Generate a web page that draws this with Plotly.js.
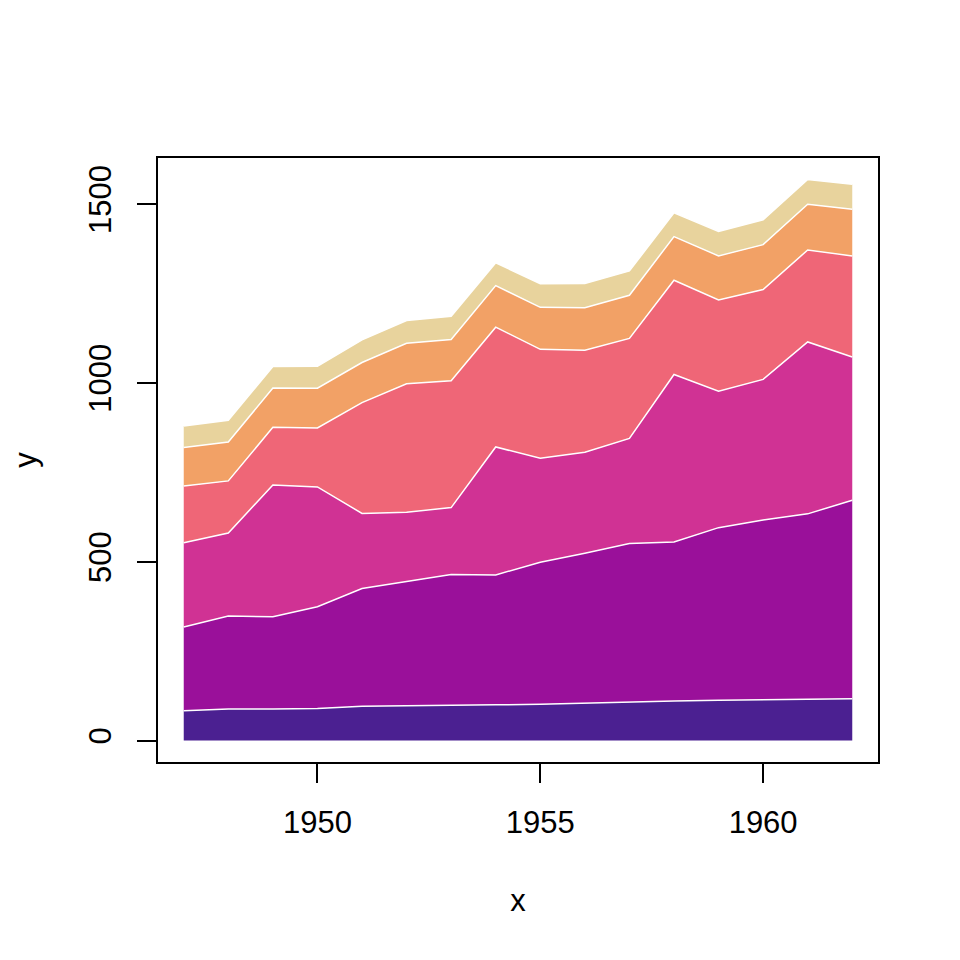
<!DOCTYPE html>
<html>
<head>
<meta charset="utf-8">
<script src="https://cdn.plot.ly/plotly-3.0.1.min.js"></script>
<style>
  body { margin: 0; background: #fff; }
  #chart { width: 960px; height: 960px; }
</style>
</head>
<body>
<div id="chart"></div>
<script>
// longley data, stacked
var years = [1947, 1948, 1949, 1950, 1951, 1952, 1953, 1954, 1955, 1956, 1957, 1958, 1959, 1960, 1961, 1962];
var gnpDeflator = [83, 88.5, 88.2, 89.5, 96.2, 98.1, 99, 100, 101.2, 104.6, 108.4, 110.8, 112.6, 114.2, 115.7, 116.9];
var gnp = [234.289, 259.426, 258.054, 284.599, 328.975, 346.999, 365.385, 363.112, 397.469, 419.18, 442.769, 444.546, 482.704, 502.601, 518.173, 554.894];
var unemployed = [235.6, 232.5, 368.2, 335.1, 209.9, 193.2, 187, 357.8, 290.4, 282.2, 293.6, 468.1, 381.3, 393.1, 480.6, 400.7];
var armedForces = [159, 145.6, 161.6, 165, 309.9, 359.4, 354.7, 335, 304.8, 285.7, 279.8, 263.7, 255.2, 251.4, 257.2, 282.7];
var population = [107.608, 108.632, 109.773, 110.929, 112.075, 113.27, 115.094, 116.219, 117.388, 118.734, 120.445, 121.95, 123.366, 125.368, 127.852, 130.081];
var employed = [60.323, 61.122, 60.171, 61.187, 63.221, 63.639, 64.989, 63.761, 66.019, 67.857, 68.169, 66.513, 68.655, 69.564, 69.331, 70.551];

var series = [gnpDeflator, gnp, unemployed, armedForces, population, employed];
var names = ["GNP.deflator", "GNP", "Unemployed", "Armed.Forces", "Population", "Employed"];
var colors = ["#4B2091", "#9A109A", "#D03294", "#EF6677", "#F2A166", "#E8D39D"];

var data = [];
for (var i = 0; i < series.length; i++) {
  data.push({
    x: years,
    y: series[i],
    type: "scatter",
    mode: "lines",
    stackgroup: "one",
    name: names[i],
    fillcolor: colors[i],
    line: { color: "white", width: 1.5 },
    hoverinfo: "x+y+name"
  });
}

var fnt = { family: "Liberation Sans, Arial, sans-serif", size: 31, color: "#000" };

var layout = {
  width: 960,
  height: 960,
  margin: { l: 157, r: 81, t: 157, b: 197 },
  paper_bgcolor: "white",
  plot_bgcolor: "white",
  showlegend: false,
  font: fnt,
  xaxis: {
    range: [1946.4, 1962.6],
    tickvals: [1950, 1955, 1960],
    ticks: "outside",
    ticklen: 19,
    tickwidth: 2,
    tickcolor: "#000",
    showgrid: false,
    zeroline: false,
    showline: false,
    tickfont: fnt,
    ticklabelstandoff: 13,
    title: { text: "x", font: fnt, standoff: 50 }
  },
  yaxis: {
    range: [-62.8, 1631.7],
    tickvals: [0, 500, 1000, 1500],
    tickangle: -90,
    ticks: "outside",
    ticklen: 19,
    tickwidth: 2,
    tickcolor: "#000",
    showgrid: false,
    zeroline: false,
    showline: false,
    tickfont: fnt,
    ticklabelstandoff: 14,
    title: { text: "y", font: fnt, standoff: 36 }
  },
  shapes: [{
    type: "rect",
    xref: "paper", yref: "paper",
    x0: 0, x1: 1, y0: 0, y1: 1,
    line: { color: "#000", width: 2 },
    fillcolor: "rgba(0,0,0,0)"
  }]
};

var config = { responsive: false, displayModeBar: false };

Plotly.newPlot("chart", data, layout, config);
</script>
</body>
</html>
